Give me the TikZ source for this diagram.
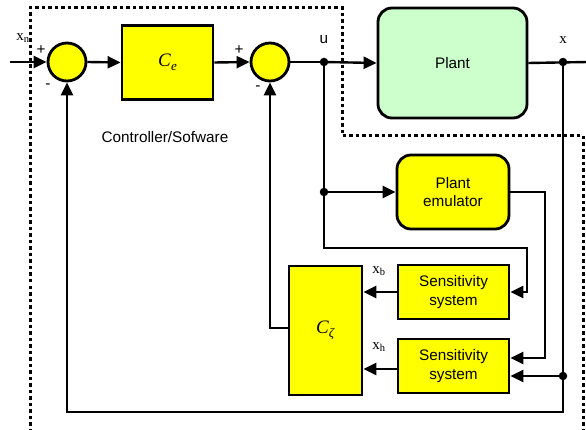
\documentclass[tikz,border=0pt]{standalone}
\usepackage{fontspec}
\setmainfont{Liberation Serif}
\setsansfont{Liberation Sans}
\usetikzlibrary{arrows.meta,calc}
\definecolor{blockyellow}{HTML}{FFFF00}
\definecolor{plantgreen}{HTML}{CCFFCC}
\newcommand{\gainlabel}[2]{\textit{#1}\raisebox{-0.45ex}{\fontsize{13}{13}\selectfont\textit{#2}}}
\begin{document}
\begin{tikzpicture}[x=1pt,y=-1pt,
  wire/.style={line width=2.4pt},
  sig/.style={wire,-{Triangle[length=13pt,width=12pt]}},
  sumnode/.style={circle,draw,line width=2.8pt,fill=blockyellow,minimum size=38pt,inner sep=0pt},
  blockbox/.style={rectangle,draw,line width=2.8pt,fill=blockyellow,inner sep=0pt,
    font=\sffamily\fontsize{15.3}{18.5}\selectfont,align=center},
  roundbox/.style={blockbox,rounded corners=14pt},
  junction/.style={circle,fill,minimum size=8.5pt,inner sep=0pt},
  sans/.style={font=\sffamily\fontsize{15.3}{18.5}\selectfont},
  serif/.style={font=\fontsize{15}{17}\selectfont,inner sep=0pt},
  gain/.style={font=\fontsize{19}{22}\selectfont},
  boundary/.style={line width=3pt,dash pattern=on 3.5pt off 3pt}]
\useasboundingbox (0,0) rectangle (586,430);

% software boundary
\draw[boundary] (30,432) -- (30,8) -- (342,8) -- (342,136) -- (583,136) -- (583,432);

% blocks
\node[sumnode] (s1) at (67,62) {};
\node[blockbox,minimum width=91pt,minimum height=74pt] (ce) at (167.5,62.5) {};
\node[gain] at (ce.center) {\gainlabel{C}{e}};
\node[sumnode] (s2) at (270,62) {};
\node[roundbox,fill=plantgreen,minimum width=149pt,minimum height=110pt] (plant) at (452.5,63) {Plant};
\node[roundbox,minimum width=112pt,minimum height=74pt] (emu) at (453,192) {Plant\\emulator};
\node[blockbox,minimum width=111pt,minimum height=54pt] (sens1) at (453.5,292) {Sensitivity\\system};
\node[blockbox,minimum width=111pt,minimum height=54pt] (sens2) at (453.5,366) {Sensitivity\\system};
\node[blockbox,minimum width=73pt,minimum height=129pt] (cz) at (325.5,330.5) {};
\node[gain] at (cz.center) {\gainlabel{C}{ζ}};

% junctions
\node[junction] (ju) at (324,62) {};
\node[junction] (jx) at (563,62) {};
\node[junction] (jemu) at (324,192) {};
\node[junction] (jfb) at (563,376) {};
\coordinate (xin) at (10,62);
\coordinate (xout) at (588,62);

% labels
\node[serif] (lxn) at (23,38) {x\textsubscript{n}};
\node[sans] (p1) at (41,50) {+};
\node[sans] (m1) at (48,86) {-};
\node[sans] (p2) at (239,50) {+};
\node[sans] (m2) at (258,88) {-};
\node[sans] (lu) at (324,40) {u};
\node[serif] (lx) at (563,40) {x};
\node[sans] (lsw) at (165,137) {Controller/Sofware};
\node[serif] (lxb) at (379,271) {x\textsubscript{b}};
\node[serif] (lxh) at (379,347) {x\textsubscript{h}};

% forward path
\draw[sig] (xin) -- (s1.west);
\draw[sig] (s1.east) -- (ce.west);
\draw[sig] (ce.east) -- (s2.west);
\draw[wire] (s2.east) -- (ju.center);
\draw[sig] (ju.center) -- (plant.west);
\draw[wire] (plant.east) -- (xout);

% emulator and sensitivity systems
\draw[sig] (ju.center) -- (jemu.center) -- (emu.west);
\draw[sig] (jemu.center) -- (324,248) -- (527,248) |- (sens1.east);
\draw[sig] (emu.east) -- (545,192) |- ($(sens2.east)+(0,-8)$);
\draw[sig] (jfb.center) -- ($(sens2.east)+(0,10)$);
\draw[sig] (sens1.west) -- (sens1.west -| cz.east);
\draw[sig] ($(sens2.west)+(0,3)$) -- ($(sens2.west -| cz.east)+(0,3)$);

% feedback paths
\draw[sig] (cz.west |- 0,328) -- (270,328) -- (s2.south);
\draw[sig] (jx.center) -- (jfb.center) -- (563,412) -- (67,412) -- (s1.south);
\end{tikzpicture}
\end{document}
